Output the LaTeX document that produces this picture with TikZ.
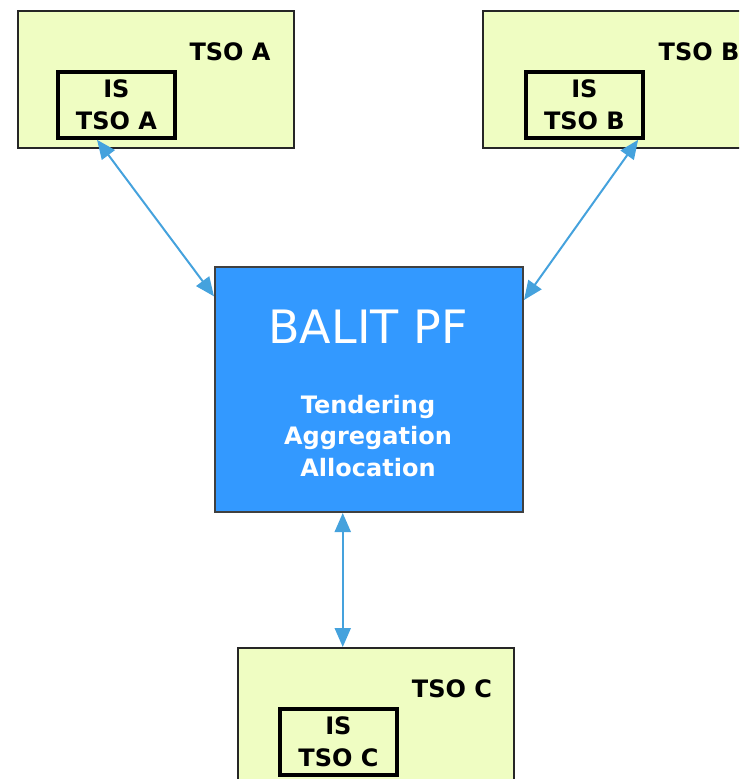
\documentclass[tikz,border=0pt]{standalone}
\usepackage{fontspec}
\setmainfont{DejaVu Sans}
\usetikzlibrary{shapes.geometric, arrows.meta, positioning}
\definecolor{tsofill}{HTML}{EFFDC2}
\definecolor{pfblue}{HTML}{3399FF}
\definecolor{linkblue}{HTML}{45A2DD}

\begin{document}
\begin{tikzpicture}[x=1pt, y=-1pt]
    \tikzstyle{tso} = [rectangle, draw=black!85, line width=1.8pt, fill=tsofill, minimum width=276pt, minimum height=137pt, anchor=north west, inner sep=0pt]
    \tikzstyle{issys} = [rectangle, draw, line width=3.8pt, minimum width=117pt, minimum height=66pt, anchor=north west, align=center, inner sep=0pt, font=\bfseries\fontsize{24}{32}\selectfont]
    \tikzstyle{tsolabel} = [anchor=base, inner sep=0pt, font=\bfseries\fontsize{24}{32}\selectfont]
    \tikzstyle{platform} = [rectangle, draw=black!75, line width=2pt, fill=pfblue, minimum width=308pt, minimum height=245pt, anchor=north west, inner sep=0pt]
    \tikzstyle{link} = [draw=linkblue, line width=2pt, {Triangle[length=19pt, width=16pt]}-{Triangle[length=19pt, width=16pt]}]

    \useasboundingbox (0,0) rectangle (739,779);
    \clip (0,0) rectangle (739,779);

    % the three TSOs with their own IS
    \node [tso] (tsoA) at (17,10) {};
    \node [tsolabel] (lblA) at (230,60) {TSO A};
    \node [issys] (isA) at (56,70) {IS\\TSO A};

    \node [tso] (tsoB) at (482,10) {};
    \node [tsolabel] (lblB) at (699,60) {TSO B};
    \node [issys] (isB) at (524,70) {IS\\TSO B};

    \node [tso] (tsoC) at (237,647) {};
    \node [tsolabel] (lblC) at (452,697) {TSO C};
    \node [issys] (isC) at (278,707) {IS\\TSO C};

    % common platform
    \node [platform] (pf) at (214,266) {};
    \node [text=white, font=\fontsize{46}{54}\selectfont] (pfname) at (368,327) {BALIT PF};
    \node [text=white, align=center, font=\bfseries\fontsize{24}{31.5}\selectfont] (pftasks) at (368,436) {Tendering\\Aggregation\\Allocation};

    \path [link] (isA.241) -- (pf.149);
    \path [link] (isB.-33) -- (pf.30);
    \path [link] (pf.258.5) -- (pf.258.5 |- tsoC.north);
\end{tikzpicture}
\end{document}
